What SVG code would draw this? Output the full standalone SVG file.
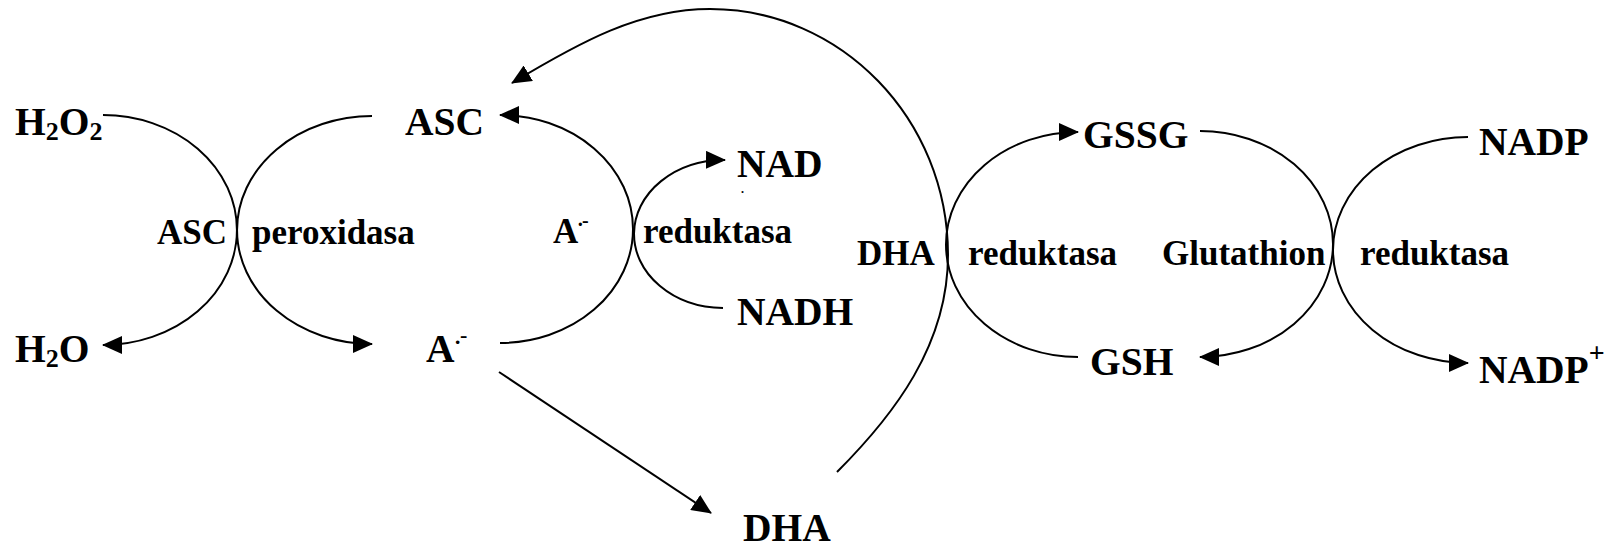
<svg xmlns="http://www.w3.org/2000/svg" width="1615" height="550" viewBox="0 0 1615 550">
<style>
text{font-family:"Liberation Serif","Times New Roman",serif;font-weight:bold;fill:#000}
.m{font-size:39.5px}
.l{font-size:35px}
.sub{font-size:26px}
.sup{font-size:22px}
.c{fill:none;stroke:#000;stroke-width:2}
.a{marker-end:url(#ah)}
</style>
<defs>
<marker id="ah" viewBox="0 0 20 18" refX="19" refY="9" markerWidth="20" markerHeight="18" markerUnits="userSpaceOnUse" orient="auto"><path d="M0,0 L20,9 L0,18 z" fill="#000"/></marker>
</defs>
<rect width="1615" height="550" fill="#fff"/>
<g id="connectors">
<path class="c a" d="M103,115 A134,115 0 0 1 103,345"/>
<path class="c a" d="M372,116 A135,114 0 0 0 372,344"/>
<path class="c a" d="M500,343 A133,114 0 0 0 500,115"/>
<path class="c a" d="M723,308 A90,74 0 0 1 725,160"/>
<path class="c a" d="M499,372 L711,513"/>
<path class="c a" d="M837,472 C894,415 948,345 948,255 C948,119 841,9 710,9 C640,9 580,42 512,83"/>
<path class="c a" d="M1078,357 A132,112.5 0 0 1 1078,132"/>
<path class="c a" d="M1200,131 A133,113 0 0 1 1200,357"/>
<path class="c a" d="M1468,137 A135,113 0 0 0 1468,363"/>
</g>
<g id="h2o2"><text class="m" x="15" y="135">H<tspan class="sub" dy="5">2</tspan><tspan dy="-5">O</tspan><tspan class="sub" dy="5">2</tspan></text></g>
<g id="h2o"><text class="m" x="15" y="362">H<tspan class="sub" dy="5">2</tspan><tspan dy="-5">O</tspan></text></g>
<g id="asc"><text class="m" x="405" y="135">ASC</text></g>
<g id="a-radical"><text class="m" x="426" y="362">A<tspan class="sup" x="454" y="349">·</tspan><tspan class="sup" x="460" y="342">-</tspan></text></g>
<g id="nad"><text class="m" x="737" y="177">NAD</text><text x="741" y="193" style="font-size:12px">.</text></g>
<g id="nadh"><text class="m" x="737" y="325">NADH</text></g>
<g id="dha"><text class="m" x="743" y="541">DHA</text></g>
<g id="gssg"><text class="m" x="1083" y="148">GSSG</text></g>
<g id="gsh"><text class="m" x="1090" y="375">GSH</text></g>
<g id="nadp"><text class="m" x="1479" y="155">NADP</text></g>
<g id="nadp-plus"><text class="m" x="1479" y="383">NADP<tspan style="font-size:28px" dy="-21">+</tspan></text></g>
<g id="enzyme-apx"><text class="l" x="157" y="244">ASC</text><text class="l" x="252" y="244">peroxidasa</text></g>
<g id="enzyme-mdhar"><text class="l" x="553" y="243">A<tspan style="font-size:20px" x="577" y="231">·</tspan><tspan style="font-size:20px" x="582" y="227">-</tspan></text><text class="l" x="643" y="243">reduktasa</text></g>
<g id="enzyme-dhar"><text class="l" x="857" y="265">DHA</text><text class="l" x="968" y="265">reduktasa</text></g>
<g id="enzyme-gr"><text class="l" x="1162" y="265">Glutathion</text><text class="l" x="1360" y="265">reduktasa</text></g>
</svg>
